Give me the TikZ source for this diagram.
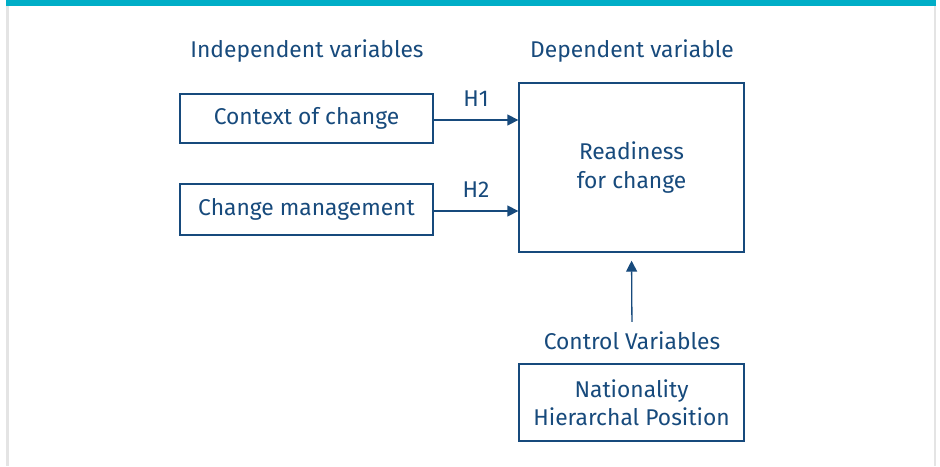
\documentclass[tikz,border=0pt]{standalone}
\usepackage{fontspec}
\setmainfont{Fira Sans}
\usepackage{tikz}
\usetikzlibrary{arrows.meta}
\definecolor{navyblue}{RGB}{23, 74, 124}
\definecolor{topteal}{RGB}{0, 174, 199}
\definecolor{framegray}{RGB}{228, 228, 228}

\begin{document}
\begin{tikzpicture}[
    x=1pt, y=-1pt,
    every node/.style={text=navyblue, font=\fontsize{22.8}{28.5}\selectfont},
    varbox/.style={draw=navyblue, line width=1.3pt, rectangle, inner sep=0pt, align=center},
    heading/.style={inner sep=0pt},
    arrow/.style={-{Triangle[length=11pt, width=11pt]}, line width=1.3pt, color=navyblue}
]
\useasboundingbox (0,0) rectangle (940,466);

% Frame
\fill[framegray] (6,0) rectangle (8.5,466);
\fill[framegray] (933.5,0) rectangle (936,466);
\fill[topteal] (6,0) rectangle (936,5.5);

% Headings
\node[heading] (indep) at (307,51) {Independent variables};
\node[heading] (dep) at (632,51) {Dependent variable};

% Independent variables
\node[varbox, minimum width=253pt, minimum height=49pt] (context) at (306.5,118.5) {Context of change};
\node[varbox, minimum width=253pt, minimum height=51pt] (management) at (306.5,209.5) {Change management};

% Dependent variable
\node[varbox, minimum width=225pt, minimum height=169pt] (readiness) at (631.5,167.5) {};
\node (readytext) at (631.5,167.5) [align=center, inner sep=0pt] {Readiness\\for change};

% Control variables
\node[heading] (ctrllabel) at (632,341) {Control Variables};
\node[varbox, minimum width=225pt, minimum height=77pt] (controls) at (631.5,402.5) {Nationality\\Hierarchal Position};

% Connections
\draw[arrow] (context.east |- 0,120) -- (readiness.west |- 0,120) node[midway, above=13pt, inner sep=0pt] (hone) {H1};
\draw[arrow] (management.east |- 0,211) -- (readiness.west |- 0,211) node[midway, above=13pt, inner sep=0pt] (htwo) {H2};
\draw[arrow, shorten <=10pt, shorten >=8pt] (ctrllabel.north) -- (readiness.south);

\end{tikzpicture}
\end{document}
